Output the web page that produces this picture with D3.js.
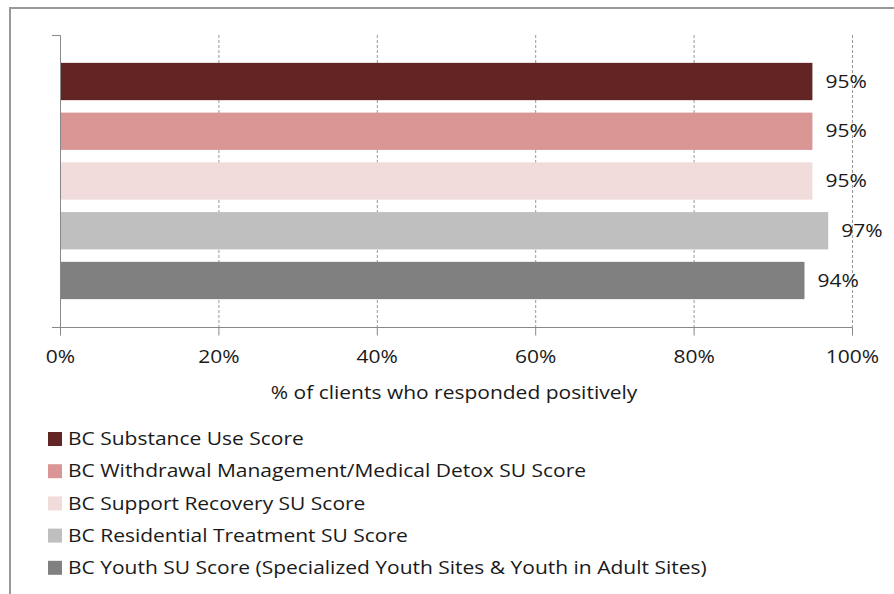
<!DOCTYPE html>
<html>
<head>
<meta charset="utf-8">
<script src="https://cdn.jsdelivr.net/npm/d3@7"></script>
<style>
  html, body { margin: 0; padding: 0; background: #fff; }
  svg { display: block; }
  text { font-family: "Open Sans", "Noto Sans", sans-serif; fill: #1a1a1a; }
</style>
</head>
<body>
<svg id="chart" width="894" height="594"></svg>
<script>
// Series shown as bars (one category, one bar per series)
const seriesNames = [
  "BC Substance Use Score",
  "BC Withdrawal Management/Medical Detox SU Score",
  "BC Support Recovery SU Score",
  "BC Residential Treatment SU Score",
  "BC Youth SU Score (Specialized Youth Sites & Youth in Adult Sites)"
];
const seriesValues = [95, 95, 95, 97, 94];
const seriesColors = ["#632523", "#D99694", "#F2DCDB", "#BFBFBF", "#808080"];
const xTicks = [0, 20, 40, 60, 80, 100];
const xAxisTitle = "% of clients who responded positively";

const FONT = 17.5;
const WIDEN = 1.2; // horizontal stretch applied to all text
const svg = d3.select("#chart");

// places a horizontally widened text label at (x, y)
function label(parent, x, y, str, anchor) {
  return parent.append("text")
    .attr("transform", `translate(${x},${y}) scale(${WIDEN},1)`)
    .attr("text-anchor", anchor || "start")
    .attr("font-size", FONT)
    .text(str);
}

// outer chart frame
svg.append("rect")
  .attr("x", 10).attr("y", 8)
  .attr("width", 900).attr("height", 600)
  .attr("fill", "none").attr("stroke", "#999").attr("stroke-width", 2);

const plot = { left: 60, right: 852, top: 35, bottom: 327 };

const x = d3.scaleLinear().domain([0, 100]).range([plot.left, plot.right]);
const y = d3.scaleBand()
  .domain(seriesNames)
  .range([plot.top, plot.bottom])
  .paddingInner(0.25)
  .paddingOuter(0.56);

// dashed vertical gridlines
svg.append("g")
  .selectAll("line")
  .data(xTicks.filter(d => d > 0))
  .join("line")
  .attr("x1", d => x(d) + 0.5).attr("x2", d => x(d) + 0.5)
  .attr("y1", plot.top).attr("y2", plot.bottom)
  .attr("stroke", "#999").attr("stroke-width", 1)
  .attr("stroke-dasharray", "3,2");

// bars
svg.append("g")
  .selectAll("rect")
  .data(seriesNames)
  .join("rect")
  .attr("x", x(0))
  .attr("y", d => y(d))
  .attr("width", (d, i) => x(seriesValues[i]) - x(0))
  .attr("height", y.bandwidth())
  .attr("fill", (d, i) => seriesColors[i]);

// value labels
const valG = svg.append("g");
seriesNames.forEach((d, i) => {
  label(valG, x(seriesValues[i]) + 13, y(d) + y.bandwidth() / 2, seriesValues[i] + "%")
    .attr("dy", "0.35em");
});

// x axis
const xAxis = d3.axisBottom(x)
  .tickValues(xTicks)
  .tickFormat(d => d + "%")
  .tickSize(8)
  .tickSizeOuter(0);
const gx = svg.append("g")
  .attr("transform", `translate(0,${plot.bottom + 0.5})`)
  .call(xAxis);
gx.select(".domain").attr("stroke", "#888").attr("d", `M${plot.left - 8},0H${plot.right + 0.5}`);
gx.selectAll(".tick line").attr("stroke", "#888");
gx.selectAll(".tick text")
  .attr("font-size", FONT)
  .attr("font-family", "'Open Sans', sans-serif")
  .attr("fill", "#1a1a1a")
  .attr("y", 23)
  .attr("transform", `scale(${WIDEN},1)`);

// y axis line with end ticks
svg.append("path")
  .attr("stroke", "#888").attr("fill", "none")
  .attr("d", `M${plot.left - 8},${plot.top + 0.5}H${plot.left + 0.5}V${plot.bottom}`);

// axis title
label(svg, 454, 399, xAxisTitle, "middle");

// legend
const legendRow = svg.append("g").selectAll("g")
  .data(seriesNames)
  .join("g")
  .attr("transform", (d, i) => `translate(48,${439 + i * 32.2})`);
legendRow.append("rect")
  .attr("x", 0).attr("y", -7)
  .attr("width", 14).attr("height", 14)
  .attr("fill", (d, i) => seriesColors[i]);
legendRow.each(function (d) {
  label(d3.select(this), 20, 0, d).attr("dy", "0.35em");
});
</script>
</body>
</html>
